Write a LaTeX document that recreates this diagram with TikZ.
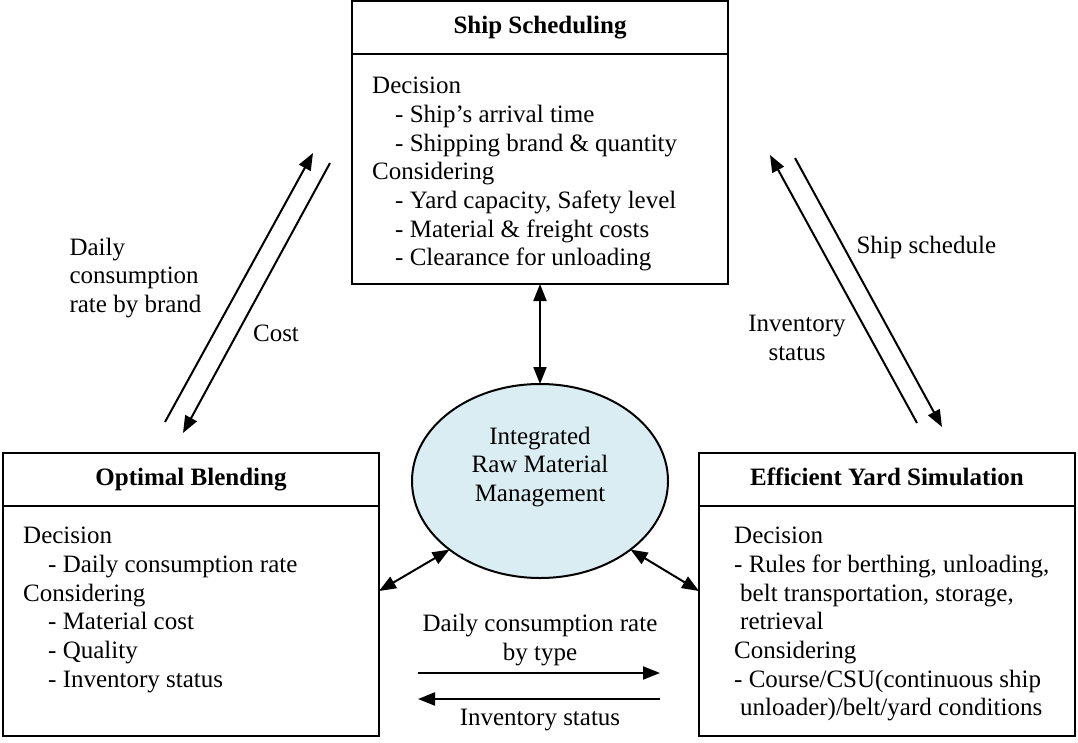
\documentclass[tikz,border=0pt]{standalone}
\usepackage{fontspec}
\setmainfont{Liberation Serif}
\usetikzlibrary{arrows.meta,positioning,shapes.geometric}
\definecolor{hubblue}{RGB}{218,237,243}

\begin{document}
\begin{tikzpicture}[x=1pt, y=-1pt, every node/.style={font=\fontsize{25}{28.7}\selectfont}]
  \tikzset{
      titlebox/.style={draw, line width=2pt, outer sep=0pt, minimum width=376pt, minimum height=53pt, text height=17pt, text depth=5pt, font=\fontsize{25}{28.7}\selectfont\bfseries},
      bodybox/.style={draw, line width=2pt, outer sep=0pt, minimum width=376pt, minimum height=230pt},
      bodytext/.style={align=left, inner sep=0pt, anchor=north west},
      hub/.style={ellipse, draw, line width=2pt, fill=hubblue, minimum width=256pt, minimum height=194pt, outer sep=0pt},
      flow/.style={line width=2pt, -{Triangle[length=17pt,width=13pt]}},
      biflow/.style={line width=2pt, {Triangle[length=17pt,width=13pt]}-{Triangle[length=17pt,width=13pt]}}
  }
  \useasboundingbox (0,0) rectangle (1078,742);

  % three boxes
  \node[titlebox, anchor=north] (shipTitle) at (540,1) {Ship Scheduling};
  \node[bodybox, anchor=north] (shipBody) at (shipTitle.south) {};
  \node[bodytext] (shipText) at ([xshift=20pt, yshift=-23pt]shipBody.north west)
      {Decision\\\hspace*{23pt}- Ship's arrival time\\\hspace*{23pt}- Shipping brand \& quantity\\Considering\\\hspace*{23pt}- Yard capacity, Safety level\\\hspace*{23pt}- Material \& freight costs\\\hspace*{23pt}- Clearance for unloading};

  \node[titlebox, anchor=north] (blendTitle) at (191,453) {Optimal Blending};
  \node[bodybox, anchor=north] (blendBody) at (blendTitle.south) {};
  \node[bodytext] (blendText) at ([xshift=20pt, yshift=-21pt]blendBody.north west)
      {Decision\\\hspace*{25pt}- Daily consumption rate\\Considering\\\hspace*{25pt}- Material cost\\\hspace*{25pt}- Quality\\\hspace*{25pt}- Inventory status};

  \node[titlebox, anchor=north] (yardTitle) at (887,453) {Efficient Yard Simulation};
  \node[bodybox, anchor=north] (yardBody) at (yardTitle.south) {};
  \node[bodytext] (yardText) at ([xshift=35pt, yshift=-21pt]yardBody.north west)
      {Decision\\- Rules for berthing, unloading,\\\hspace*{6pt}belt transportation, storage,\\\hspace*{6pt}retrieval\\Considering\\- Course/CSU(continuous ship\\\hspace*{6pt}unloader)/belt/yard conditions};

  % centre
  \node[hub] (irm) at (540,481) {};
  \node[align=center] (irmText) at ([yshift=14pt]irm.center) {Integrated\\Raw Material\\Management};

  \draw[biflow] (irm.north) -- (shipBody.south);
  \draw[biflow] (irm.south west) -- ([yshift=30pt]blendBody.east);
  \draw[biflow] (irm.south east) -- ([yshift=30pt]yardBody.west);

  % side exchanges
  \coordinate (lUpA) at (165,422);
  \coordinate (lUpB) at (313,153);
  \coordinate (lDnA) at (330,163);
  \coordinate (lDnB) at (183,433);
  \coordinate (rUpA) at (917,423);
  \coordinate (rUpB) at (770,155);
  \coordinate (rDnA) at (795,158);
  \coordinate (rDnB) at (942,427);
  \coordinate (bRtA) at (418,673);
  \coordinate (bRtB) at (660,673);
  \coordinate (bLtA) at (660,699);
  \coordinate (bLtB) at (418,699);
  \draw[flow] (lUpA) -- (lUpB);
  \draw[flow] (lDnA) -- (lDnB);
  \draw[flow] (rUpA) -- (rUpB);
  \draw[flow] (rDnA) -- (rDnB);
  \draw[flow] (bRtA) -- (bRtB);
  \draw[flow] (bLtA) -- (bLtB);

  \node[align=left, anchor=west] (brandLbl) at (66,278) {Daily\\consumption\\rate by brand};
  \node (costLbl) at (276,333) {Cost};
  \node[anchor=west] (schedLbl) at (853,247) {Ship schedule};
  \node[align=center] (invLbl) at (797,338) {Inventory\\status};
  \node[align=center] (typeLbl) at (540,640) {Daily consumption rate\\by type};
  \node (invLbl2) at (540,720) {Inventory status};
\end{tikzpicture}
\end{document}
